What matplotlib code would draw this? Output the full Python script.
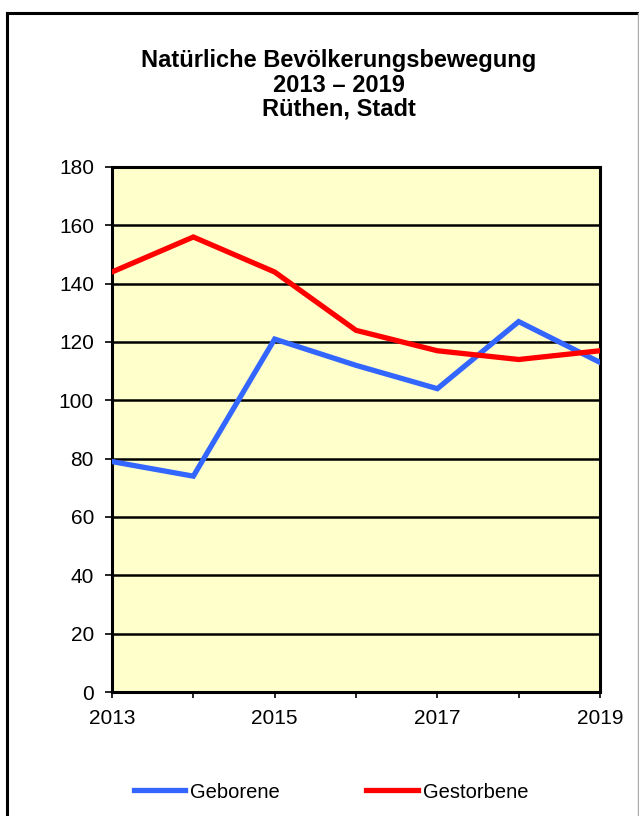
import matplotlib
matplotlib.use("Agg")
import matplotlib.pyplot as plt
from matplotlib.lines import Line2D

plt.rcParams['font.family'] = ['Liberation Sans', 'DejaVu Sans']

years = [2013, 2014, 2015, 2016, 2017, 2018, 2019]
geborene = [79, 74, 121, 112, 104, 127, 113]
gestorbene = [144, 156, 144, 124, 117, 114, 117]
year_labels = ['2013', '', '2015', '', '2017', '', '2019']
y_ticks = [0, 20, 40, 60, 80, 100, 120, 140, 160, 180]
title = "Natürliche Bevölkerungsbewegung\n2013 – 2019\nRüthen, Stadt"

W, H = 639, 816
fig = plt.figure(figsize=(W / 100, H / 100), dpi=100)

# outer frame
fig.add_artist(Line2D([7 / W, 7 / W], [0, 1 - 13 / H], color='black', lw=2.2, transform=fig.transFigure))
fig.add_artist(Line2D([7 / W, 638 / W], [1 - 13 / H, 1 - 13 / H], color='black', lw=2.2, transform=fig.transFigure))
fig.add_artist(Line2D([637.5 / W, 637.5 / W], [0, 1 - 13 / H], color='#aaaaaa', lw=1, transform=fig.transFigure))

ax = fig.add_axes([112 / W, 1 - 692 / H, (600 - 112) / W, (692 - 167) / H])
ax.set_facecolor('#FFFFCC')
ax.plot(years, geborene, color='#3366FF', lw=3.8, solid_joinstyle='miter', label='Geborene', zorder=3)
ax.plot(years, gestorbene, color='#FF0000', lw=3.8, solid_joinstyle='miter', label='Gestorbene', zorder=3)

ax.set_xlim(years[0], years[-1])
ax.set_ylim(0, 180)
ax.set_yticks(y_ticks)
ax.set_xticks(years)
ax.set_xticklabels(year_labels)
ax.yaxis.grid(True, color='black', lw=1.8, zorder=1)
ax.set_axisbelow(True)
for s in ax.spines.values():
    s.set_linewidth(2.2)
    s.set_color('black')
ax.tick_params(axis='y', direction='out', length=5, width=1.2, labelsize=15, pad=8, colors='black')
ax.tick_params(axis='x', direction='out', length=4, width=1.2, labelsize=15, pad=8)

fig.text(339 / W, 1 - 85 / H, title, ha='center', va='center', fontsize=17, fontweight='bold', linespacing=1.07)

handles = [Line2D([], [], color='#3366FF', lw=3.8), Line2D([], [], color='#FF0000', lw=3.8)]
fig.legend(handles, ['Geborene', 'Gestorbene'], loc='center', bbox_to_anchor=(331 / W, 1 - 792 / H),
           ncol=2, frameon=False, fontsize=14.5, handlelength=2.55, handletextpad=0.25, columnspacing=4.3)

fig.savefig('out.png', dpi=100, facecolor='white')
